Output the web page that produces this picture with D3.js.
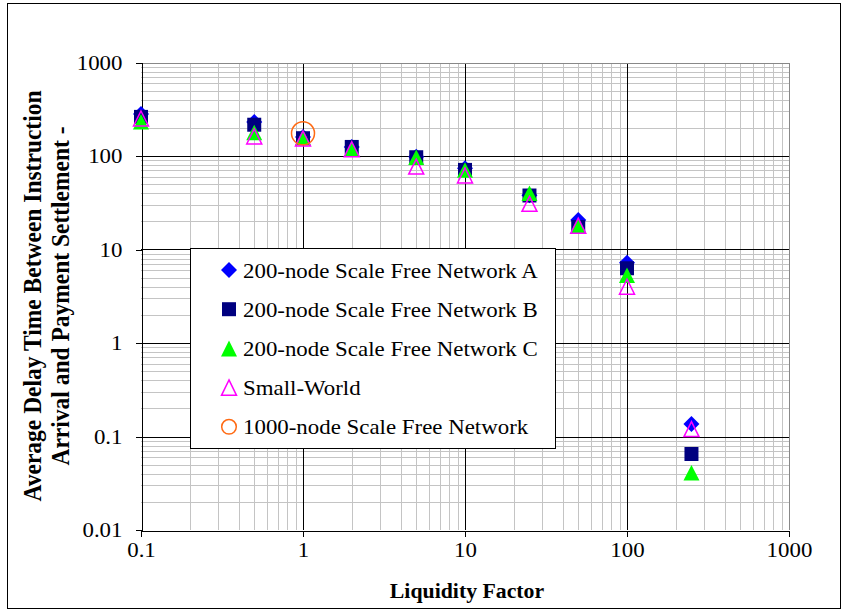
<!DOCTYPE html>
<html>
<head>
<meta charset="utf-8">
<script src="https://cdn.jsdelivr.net/npm/d3@7"></script>
<style>
  html, body { margin: 0; padding: 0; background: #fff; }
</style>
</head>
<body>
<svg id="chart" width="845" height="613"></svg>
<script>
// Liquidity factor (x) and average delay per network type (y)
const liquidity = [0.1, 0.5, 1, 2, 5, 10, 25, 50, 100, 250];
const netA = [281, 231, 160, 125, 98, 74, 38, 20.7, 7.2, 0.136];
const netB = [262, 216, 155, 125, 97, 71, 37.8, 17.4, 6.3, 0.065];
const netC = [232, 178, 158, 119, 97, 71, 40, 18, 5.3, 0.041];
const smallWorld = [252, 162, 154, 118, 77, 62, 30.8, 18, 4.0, 0.12];
const bigLiquidity = [1];
const bigNet = [175];

const xTicks = [0.1, 1, 10, 100, 1000];
const yTicks = [0.01, 0.1, 1, 10, 100, 1000];
const tickLabel = v => String(v);

const seriesNames = [
  "200-node Scale Free Network A",
  "200-node Scale Free Network B",
  "200-node Scale Free Network C",
  "Small-World",
  "1000-node Scale Free Network"
];

const SERIF = "'Liberation Serif', 'Times New Roman', Times, serif";

const svg = d3.select("#chart").attr("font-family", SERIF);
const plot = { left: 141, top: 62.5, right: 789, bottom: 530 };
const stretch = 1.09; // horizontal text widening

const x = d3.scaleLog().domain([0.1, 1000]).range([plot.left, plot.right]);
const y = d3.scaleLog().domain([0.01, 1000]).range([plot.bottom, plot.top]);

// outer frame
svg.append("rect").attr("x", 7.5).attr("y", 3.5).attr("width", 833).attr("height", 605)
  .attr("fill", "#fff").attr("stroke", "#000").attr("stroke-width", 1);

// minor gridlines (2..9 within each decade)
const minorX = [], minorY = [];
for (let e = -1; e < 3; e++) for (let k = 2; k <= 9; k++) minorX.push(k * Math.pow(10, e));
for (let e = -2; e < 3; e++) for (let k = 2; k <= 9; k++) minorY.push(k * Math.pow(10, e));

const grid = svg.append("g").attr("shape-rendering", "crispEdges");
grid.selectAll("line.mx").data(minorX).join("line").attr("class", "mx")
  .attr("x1", d => Math.round(x(d)) + 0.5).attr("x2", d => Math.round(x(d)) + 0.5)
  .attr("y1", plot.top).attr("y2", plot.bottom).attr("stroke", "#c4c4c4");
grid.selectAll("line.my").data(minorY).join("line").attr("class", "my")
  .attr("y1", d => Math.round(y(d)) + 0.5).attr("y2", d => Math.round(y(d)) + 0.5)
  .attr("x1", plot.left).attr("x2", plot.right).attr("stroke", "#c4c4c4");

// major gridlines
grid.selectAll("line.Mx").data(xTicks.slice(1, -1)).join("line").attr("class", "Mx")
  .attr("x1", d => Math.round(x(d)) + 0.5).attr("x2", d => Math.round(x(d)) + 0.5)
  .attr("y1", plot.top).attr("y2", plot.bottom).attr("stroke", "#000");
grid.selectAll("line.My").data(yTicks.slice(1, -1)).join("line").attr("class", "My")
  .attr("y1", d => Math.round(y(d)) + 0.5).attr("y2", d => Math.round(y(d)) + 0.5)
  .attr("x1", plot.left).attr("x2", plot.right).attr("stroke", "#000");

// top / right border of the plot area
grid.append("line").attr("x1", plot.left).attr("x2", plot.right)
  .attr("y1", Math.round(plot.top) + 0.5).attr("y2", Math.round(plot.top) + 0.5).attr("stroke", "#888");
grid.append("line").attr("x1", Math.round(plot.right) + 0.5).attr("x2", Math.round(plot.right) + 0.5)
  .attr("y1", plot.top).attr("y2", plot.bottom).attr("stroke", "#888");

// axes
const xAxis = svg.append("g").attr("transform", `translate(0,${Math.round(plot.bottom) + 0.5})`)
  .call(d3.axisBottom(x).tickValues(xTicks).tickFormat(tickLabel).tickSize(6).tickSizeOuter(0));
const yAxis = svg.append("g").attr("transform", `translate(${Math.round(plot.left) + 0.5},0)`)
  .call(d3.axisLeft(y).tickValues(yTicks).tickFormat(tickLabel).tickSize(6).tickSizeOuter(0));

[xAxis, yAxis].forEach(a => {
  a.attr("font-family", SERIF).attr("font-size", 21);
  a.select(".domain").attr("stroke", "#000").attr("shape-rendering", "crispEdges");
  a.selectAll(".tick line").attr("stroke", "#000").attr("shape-rendering", "crispEdges");
  a.selectAll(".tick text").attr("fill", "#000");
});
xAxis.selectAll(".tick text").attr("y", 12).attr("dy", "0.71em")
  .attr("transform", `scale(${stretch},1)`).attr("x", 0);
yAxis.selectAll(".tick text").attr("x", 0)
  .attr("transform", `translate(-19,0) scale(${stretch},1)`);

// axis titles
svg.append("text").attr("transform", `translate(467,598) scale(${stretch},1)`)
  .attr("text-anchor", "middle").attr("font-size", 20).attr("font-weight", "bold")
  .text("Liquidity Factor");

const yTitle = svg.append("g").attr("transform", "translate(0,296) rotate(-90)");
yTitle.append("text").attr("transform", `translate(0,41) scale(1,1.05)`)
  .attr("text-anchor", "middle").attr("font-size", 23.5).attr("font-weight", "bold")
  .text("Average Delay Time Between Instruction");
yTitle.append("text").attr("transform", `translate(0,69) scale(1,1.05)`)
  .attr("text-anchor", "middle").attr("font-size", 23.5).attr("font-weight", "bold")
  .text("Arrival and Payment Settlement  -");

// marker shapes
const diamond = s => `M0,${-s}L${s},0L0,${s}L${-s},0Z`;
const square = s => `M${-s},${-s}H${s}V${s}H${-s}Z`;
const triangle = (w, h) => `M0,${-h / 2}L${w / 2},${h / 2}L${-w / 2},${h / 2}Z`;

const series = [
  { name: seriesNames[0], xs: liquidity, ys: netA, path: diamond(8), fill: "#0000ff", stroke: "none" },
  { name: seriesNames[1], xs: liquidity, ys: netB, path: square(7), fill: "#000080", stroke: "none" },
  { name: seriesNames[2], xs: liquidity, ys: netC, path: triangle(16, 15.5), fill: "#00ff00", stroke: "none" },
  { name: seriesNames[3], xs: liquidity, ys: smallWorld, path: triangle(15, 15), fill: "none", stroke: "#ff00ff" },
  { name: seriesNames[4], xs: bigLiquidity, ys: bigNet, circle: 11.5, fill: "none", stroke: "#ff6a13" }
];

const marks = svg.append("g");
series.forEach(s => {
  const pts = s.xs.map((v, i) => [v, s.ys[i]]);
  const g = marks.append("g");
  if (s.circle) {
    g.selectAll("circle").data(pts).join("circle")
      .attr("cx", d => x(d[0])).attr("cy", d => y(d[1])).attr("r", s.circle)
      .attr("fill", s.fill).attr("stroke", s.stroke).attr("stroke-width", 1.5);
  } else {
    g.selectAll("path").data(pts).join("path")
      .attr("d", s.path).attr("transform", d => `translate(${x(d[0])},${y(d[1])})`)
      .attr("fill", s.fill).attr("stroke", s.stroke).attr("stroke-width", 1.5);
  }
});

// legend
const legend = svg.append("g").attr("transform", "translate(190.5,248.5)");
legend.append("rect").attr("width", 365).attr("height", 200)
  .attr("fill", "#fff").attr("stroke", "#000").attr("stroke-width", 1);
const legendSymbols = [
  { path: diamond(8), fill: "#0000ff", stroke: "none" },
  { path: square(7), fill: "#000080", stroke: "none" },
  { path: triangle(16, 16), fill: "#00ff00", stroke: "none" },
  { path: triangle(15, 15.5), fill: "none", stroke: "#ff00ff" },
  { circle: 7.3, fill: "none", stroke: "#ff6a13" }
];
seriesNames.forEach((name, i) => {
  const row = legend.append("g").attr("transform", `translate(0,${21.5 + i * 39.2})`);
  const sym = legendSymbols[i];
  if (sym.circle) {
    row.append("circle").attr("cx", 38.5).attr("cy", 0).attr("r", sym.circle)
      .attr("fill", sym.fill).attr("stroke", sym.stroke).attr("stroke-width", 1.5);
  } else {
    row.append("path").attr("d", sym.path).attr("transform", "translate(38.5,0)")
      .attr("fill", sym.fill).attr("stroke", sym.stroke).attr("stroke-width", 1.5);
  }
  row.append("text").attr("transform", `translate(52.5,7.5) scale(${stretch},1)`)
    .attr("font-size", 21).text(name);
});
</script>
</body>
</html>
